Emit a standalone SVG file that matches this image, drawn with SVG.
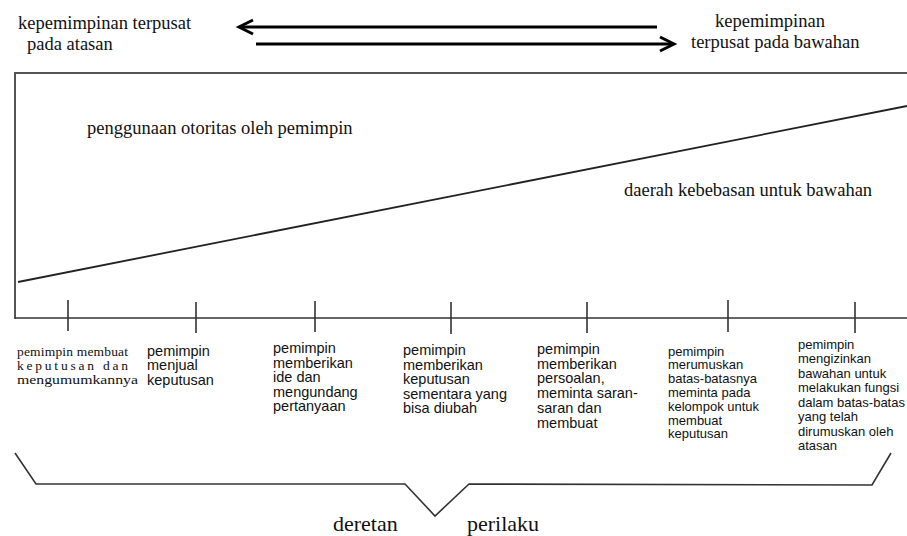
<svg xmlns="http://www.w3.org/2000/svg" width="907" height="536" viewBox="0 0 907 536">
  <defs>
    <style>
      .serif { font-family: "Liberation Serif", "Times New Roman", serif; fill: #111; }
      .sans { font-family: "Liberation Sans", Arial, sans-serif; fill: #111; }
      .head { font-size: 18.5px; }
      .lbl { font-size: 14.5px; }
      .lbl-s { font-size: 13px; }
      .rule { fill: none; stroke: #333; stroke-width: 1.6; }
      .arrow { fill: none; stroke: #000; stroke-width: 3; }
      .chev { fill: none; stroke: #000; stroke-width: 3; stroke-linejoin: miter; }
    </style>
  </defs>
  <rect width="907" height="536" fill="#fff"/>

  <!-- direction arrows at the top -->
  <g id="arrows">
    <line class="arrow" x1="657" y1="27" x2="241" y2="27"/>
    <polyline class="chev" points="253,20 239,27 253,34"/>
    <line class="arrow" x1="256" y1="44" x2="672" y2="44"/>
    <polyline class="chev" points="660,37 674,44 660,51"/>
  </g>

  <g id="pole-left">
    <text class="serif head" x="18" y="29">kepemimpinan terpusat</text>
    <text class="serif head" x="27" y="50">pada atasan</text>
  </g>
  <g id="pole-right">
    <text class="serif head" x="715" y="27">kepemimpinan</text>
    <text class="serif head" x="691" y="48">terpusat pada bawahan</text>
  </g>

  <!-- frame, dividing diagonal and scale -->
  <g id="chart">
    <polyline points="907,73 15,73 15,319" fill="none" stroke="#555" stroke-width="2"/>
    <line x1="18" y1="282" x2="907" y2="106" stroke="#222" stroke-width="1.8"/>
    <line class="rule" x1="15" y1="318" x2="907" y2="318"/>
    <g class="rule">
      <line x1="68" y1="300" x2="68" y2="331"/>
      <line x1="196" y1="302" x2="196" y2="333"/>
      <line x1="315" y1="301" x2="315" y2="332"/>
      <line x1="451" y1="302" x2="451" y2="334"/>
      <line x1="587" y1="302" x2="587" y2="333"/>
      <line x1="728" y1="300" x2="728" y2="332"/>
      <line x1="855" y1="302" x2="855" y2="333"/>
    </g>
  </g>

  <g id="area-leader">
    <text class="serif head" x="87" y="134">penggunaan otoritas oleh pemimpin</text>
  </g>
  <g id="area-subordinate">
    <text class="serif head" x="624" y="196">daerah kebebasan untuk bawahan</text>
  </g>

  <!-- behaviour points along the scale -->
  <g id="b1" class="serif" font-size="13.5">
    <text x="17" y="356" textLength="111" lengthAdjust="spacing">pemimpin membuat</text>
    <text x="17" y="370" textLength="111" lengthAdjust="spacing">keputusan dan</text>
    <text x="17" y="384" textLength="121" lengthAdjust="spacingAndGlyphs">mengumumkannya</text>
  </g>
  <g id="b2" class="sans lbl">
    <text x="147" y="355.5">pemimpin</text>
    <text x="147" y="370">menjual</text>
    <text x="147" y="384.5">keputusan</text>
  </g>
  <g id="b3" class="sans lbl">
    <text x="273" y="353">pemimpin</text>
    <text x="273" y="367.6">memberikan</text>
    <text x="273" y="382.2">ide dan</text>
    <text x="273" y="396.8">mengundang</text>
    <text x="273" y="411.4">pertanyaan</text>
  </g>
  <g id="b4" class="sans lbl">
    <text x="403" y="355">pemimpin</text>
    <text x="403" y="369.5">memberikan</text>
    <text x="403" y="384">keputusan</text>
    <text x="403" y="398.5">sementara yang</text>
    <text x="403" y="413">bisa diubah</text>
  </g>
  <g id="b5" class="sans lbl">
    <text x="537" y="354">pemimpin</text>
    <text x="537" y="368.7">memberikan</text>
    <text x="537" y="383.4">persoalan,</text>
    <text x="537" y="398.1">meminta saran-</text>
    <text x="537" y="412.8">saran dan</text>
    <text x="537" y="427.5">membuat</text>
  </g>
  <g id="b6" class="sans lbl-s">
    <text x="668" y="355.5">pemimpin</text>
    <text x="668" y="369.3">merumuskan</text>
    <text x="668" y="383.1">batas-batasnya</text>
    <text x="668" y="396.9">meminta pada</text>
    <text x="668" y="410.7">kelompok untuk</text>
    <text x="668" y="424.5">membuat</text>
    <text x="668" y="438.3">keputusan</text>
  </g>
  <g id="b7" class="sans lbl-s">
    <text x="798" y="348.5">pemimpin</text>
    <text x="798" y="363">mengizinkan</text>
    <text x="798" y="377.5">bawahan untuk</text>
    <text x="798" y="392">melakukan fungsi</text>
    <text x="798" y="406.5">dalam batas-batas</text>
    <text x="798" y="421">yang telah</text>
    <text x="798" y="435.5">dirumuskan oleh</text>
    <text x="798" y="450">atasan</text>
  </g>

  <!-- brace grouping the whole range -->
  <g id="brace">
    <polyline class="rule" points="15,453 36,484 405,484 435,516 469,484 872,485 891,453"/>
    <text class="serif" font-size="22" x="333" y="531">deretan</text>
    <text class="serif" font-size="22" x="467" y="531">perilaku</text>
  </g>
</svg>
